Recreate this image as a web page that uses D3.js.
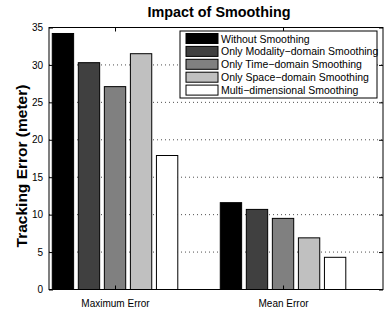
<!DOCTYPE html>
<html lang="en">
<head>
    <meta charset="UTF-8">
    <title>Impact of Smoothing</title>
    <script src="https://d3js.org/d3.v7.min.js"></script>
    <style>
        body {
            margin: 0;
            padding: 0;
            background: #fff;
            font-family: "Liberation Sans", Arial, sans-serif;
        }
        .grid line {
            stroke: #000;
            stroke-width: 0.7px;
            stroke-dasharray: 1 3;
        }
        .tick text {
            font-size: 10px;
            fill: #000;
        }
    </style>
</head>
<body>
    <svg width="386" height="322"></svg>

    <script>
        // data
        const groups = ["Maximum Error", "Mean Error"];
        const seriesNames = [
            "Without Smoothing",
            "Only Modality\u2212domain Smoothing",
            "Only Time\u2212domain Smoothing",
            "Only Space\u2212domain Smoothing",
            "Multi\u2212dimensional Smoothing"
        ];
        const seriesColors = ["#000000", "#404040", "#808080", "#c0c0c0", "#ffffff"];
        const maxErrorValues = [34.2, 30.3, 27.1, 31.5, 17.9];
        const meanErrorValues = [11.6, 10.7, 9.5, 6.9, 4.3];
        const yTicks = [0, 5, 10, 15, 20, 25, 30, 35];

        const values = [maxErrorValues, meanErrorValues];

        const svg = d3.select("svg");
        const plotL = 49, plotR = 383, plotT = 27.5, plotB = 289.5;

        // group positions 1 and 2, same spacing as the original figure
        const x = d3.scaleLinear().domain([0.607, 2.595]).range([plotL, plotR]);
        const y = d3.scaleLinear().domain([0, 35]).range([plotB, plotT]);
        const barW = x(1.155) - x(1);   // bar pitch
        const barInner = barW * 0.82;

        // gridlines
        svg.append("g")
            .attr("class", "grid")
            .selectAll("line")
            .data(yTicks.filter(d => d > 0 && d < 35))
            .enter().append("line")
            .attr("x1", plotL).attr("x2", plotR)
            .attr("y1", d => y(d)).attr("y2", d => y(d));

        // bars
        groups.forEach((g, gi) => {
            svg.append("g")
                .selectAll("rect")
                .data(values[gi])
                .enter().append("rect")
                .attr("x", (d, i) => x(gi + 1) + (i - 2) * barW - barInner / 2)
                .attr("y", d => y(d))
                .attr("width", barInner)
                .attr("height", d => y(0) - y(d))
                .attr("fill", (d, i) => seriesColors[i])
                .attr("stroke", "#000")
                .attr("stroke-width", 1);
        });

        // axes
        const yAxis = d3.axisLeft(y).tickValues(yTicks).tickSize(-4).tickPadding(6);
        svg.append("g")
            .attr("transform", `translate(${plotL},0)`)
            .call(yAxis)
            .call(g => g.select(".domain").remove());

        svg.append("g")
            .attr("transform", `translate(${plotR},0)`)
            .call(d3.axisRight(y).tickValues(yTicks).tickSize(-4).tickFormat(""))
            .call(g => g.select(".domain").remove());

        svg.append("g")
            .attr("transform", `translate(0,${plotB})`)
            .call(d3.axisBottom(x).tickValues([1, 2]).tickSize(-4).tickPadding(10)
                .tickFormat((d, i) => groups[i]))
            .call(g => g.select(".domain").remove())
            .selectAll("text").attr("fill", "#333");

        svg.append("g")
            .attr("transform", `translate(0,${plotT})`)
            .call(d3.axisTop(x).tickValues([1, 2]).tickSize(-4).tickFormat(""))
            .call(g => g.select(".domain").remove());

        svg.append("rect")
            .attr("x", plotL).attr("y", plotT)
            .attr("width", plotR - plotL).attr("height", plotB - plotT)
            .attr("fill", "none").attr("stroke", "#000").attr("stroke-width", 1);

        // title and y label
        svg.append("text")
            .attr("x", 219).attr("y", 17)
            .attr("text-anchor", "middle")
            .style("font-size", "14.4px").style("font-weight", "bold")
            .text("Impact of Smoothing");

        svg.append("text")
            .attr("transform", "translate(27,166) rotate(-90)")
            .attr("text-anchor", "middle")
            .style("font-size", "15.5px").style("font-weight", "bold")
            .text("Tracking Error (meter)");

        // legend
        const legend = svg.append("g").attr("transform", "translate(180,31)");
        legend.append("rect")
            .attr("width", 197).attr("height", 67)
            .attr("fill", "#fff").attr("stroke", "#000").attr("stroke-width", 1);
        const rows = legend.selectAll("g.item")
            .data(seriesNames)
            .enter().append("g")
            .attr("class", "item")
            .attr("transform", (d, i) => `translate(6,${2.5 + i * 12.9})`);
        rows.append("rect")
            .attr("width", 32).attr("height", 10)
            .attr("fill", (d, i) => seriesColors[i])
            .attr("stroke", "#000").attr("stroke-width", 1);
        rows.append("text")
            .attr("x", 35).attr("y", 9)
            .style("font-size", "10.5px")
            .text(d => d);
    </script>
</body>
</html>
